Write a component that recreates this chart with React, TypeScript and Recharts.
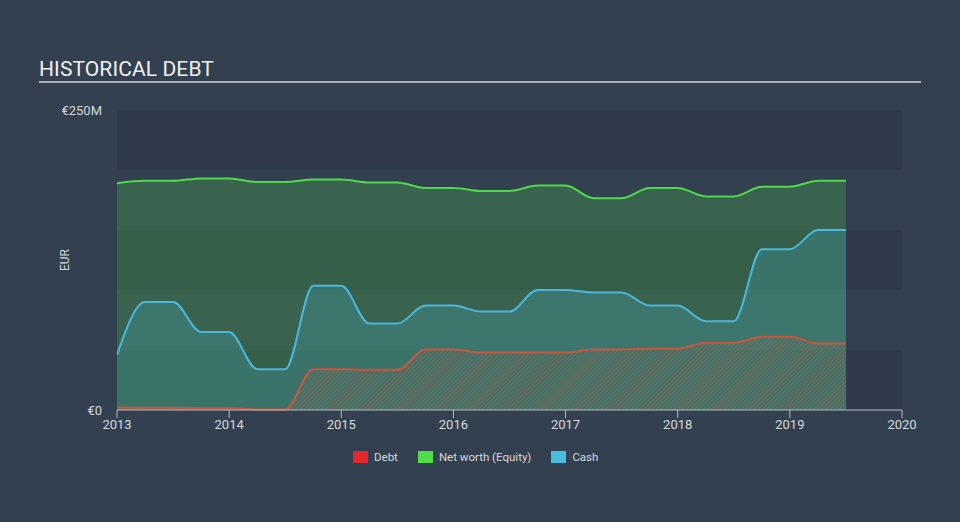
import type { FC } from 'react';
import { AreaChart, Area, XAxis, YAxis, ReferenceArea } from 'recharts';

// quarter-end dates as fractional years
const QUARTERS = [
    2013, 2013.25, 2013.5, 2013.75, 2014, 2014.25, 2014.5, 2014.75, 2015, 2015.25, 2015.5, 2015.75,
    2016, 2016.25, 2016.5, 2016.75, 2017, 2017.25, 2017.5, 2017.75, 2018, 2018.25, 2018.5, 2018.75,
    2019, 2019.25, 2019.5,
];

// EUR millions
const DEBT = [
    2, 1.8, 1.8, 1.5, 1.5, 0.5, 0.5, 34, 34, 33.5, 33.5, 50.5, 50.5, 48, 48, 48, 48, 50.5, 50.5, 51, 51,
    56, 56, 61, 61, 55.5, 55.5,
];
const EQUITY = [
    189, 191, 191, 193, 193, 190, 190, 192, 192, 189.5, 189.5, 185, 185, 182.5, 182.5, 187, 187, 176.5,
    176.5, 185, 185, 178, 178, 186, 186, 191, 191,
];
const CASH = [
    46, 90, 90, 65, 65, 34, 34, 103.5, 103.5, 72, 72, 87, 87, 82, 82, 100, 100, 98, 98, 87, 87, 74, 74,
    134, 134, 150, 150,
];

const X_TICKS = [2013, 2014, 2015, 2016, 2017, 2018, 2019, 2020];
const Y_TICKS = [0, 250];
const BANDS = [[0, 50], [100, 150], [200, 250]];

const LEGEND = [
    { name: 'Debt', color: '#e5272d' },
    { name: 'Net worth (Equity)', color: '#4fde4a' },
    { name: 'Cash', color: '#48bde0' },
];

const data = QUARTERS.map((t, i) => ({ t, debt: DEBT[i], equity: EQUITY[i], cash: CASH[i] }));

const FONT = 'Roboto, "Noto Sans", sans-serif';
const TEXT = '#d3d8dd';

const App: FC = () => (
    <div style={{ position: 'absolute', left: 0, top: 0, width: 960, height: 522, background: '#334050', fontFamily: FONT, overflow: 'hidden' }}>
        <div style={{ position: 'absolute', left: 39, top: 57, fontSize: 21, lineHeight: '24px', color: '#eef0f2', letterSpacing: 0.1 }}>
            HISTORICAL DEBT
        </div>
        <div style={{ position: 'absolute', left: 39, top: 81, width: 882, height: 2, background: '#aab1b9' }} />
        <div style={{ position: 'absolute', left: 65, top: 260, transform: 'translate(-50%, -50%) rotate(-90deg)', fontSize: 12, color: TEXT }}>
            EUR
        </div>

        <div style={{ position: 'absolute', left: 0, top: 0 }}>
            <AreaChart width={960} height={522} data={data} margin={{ top: 110, right: 58, bottom: 82, left: 37 }}>
                <defs>
                    <pattern id="debtHatch" width="3" height="3" patternUnits="userSpaceOnUse" patternTransform="rotate(45)">
                        <rect x="0" y="0" width="1.2" height="3" fill="#c9604a" fillOpacity={0.42} />
                    </pattern>
                </defs>
                {BANDS.map(([y1, y2]) => (
                    <ReferenceArea key={y1} y1={y1} y2={y2} x1={2013} x2={2020} fill="#2d3947" fillOpacity={0.7} stroke="none" />
                ))}
                <XAxis
                    type="number"
                    dataKey="t"
                    domain={[2013, 2020]}
                    ticks={X_TICKS}
                    interval={0}
                    stroke="#b4bcc6"
                    tickSize={8}
                    tickMargin={2}
                    tick={{ fill: TEXT, fontSize: 13 }}
                    allowDataOverflow
                />
                <YAxis
                    type="number"
                    domain={[0, 250]}
                    ticks={Y_TICKS}
                    width={80}
                    axisLine={false}
                    tickLine={false}
                    tickMargin={9}
                    tick={{ fill: TEXT, fontSize: 13 }}
                    tickFormatter={(v: number) => (v === 0 ? '€0' : `€${v}M`)}
                />
                <Area
                    type="monotone"
                    dataKey="equity"
                    stroke="#4fd94a"
                    strokeWidth={2}
                    fill="#4cd94c"
                    fillOpacity={0.23}
                    dot={false}
                    activeDot={false}
                    isAnimationActive={false}
                />
                <Area
                    type="monotone"
                    dataKey="cash"
                    stroke="#4ab8dc"
                    strokeWidth={2}
                    fill="#4bb9dc"
                    fillOpacity={0.22}
                    dot={false}
                    activeDot={false}
                    isAnimationActive={false}
                />
                <Area
                    type="monotone"
                    dataKey="debt"
                    stroke="#c9573f"
                    strokeWidth={2}
                    fill="url(#debtHatch)"
                    fillOpacity={1}
                    dot={false}
                    activeDot={false}
                    isAnimationActive={false}
                />
            </AreaChart>
        </div>

        <div style={{ position: 'absolute', left: 353, top: 450, display: 'flex', alignItems: 'center', fontSize: 11.5, color: TEXT }}>
            {LEGEND.map((item) => (
                <div key={item.name} style={{ display: 'flex', alignItems: 'center', marginRight: 20 }}>
                    <span style={{ display: 'inline-block', width: 15, height: 12, background: item.color, marginRight: 6 }} />
                    <span>{item.name}</span>
                </div>
            ))}
        </div>
    </div>
);

export default App;
